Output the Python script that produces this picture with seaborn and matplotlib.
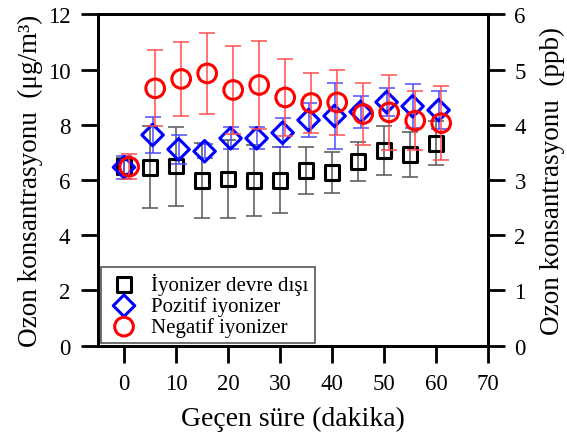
import numpy as np
import pandas as pd
import matplotlib
matplotlib.use("Agg")
import matplotlib.pyplot as plt
import seaborn as sns

# ---- data ----
time_off = [0, 5, 10, 15, 20, 25, 30, 35, 40, 45, 50, 55, 60]
ozone_off = [6.48, 6.46, 6.50, 5.99, 6.04, 5.99, 5.99, 6.34, 6.28, 6.66, 7.06, 6.92, 7.33]
err_off = [0.30, 1.49, 1.43, 1.36, 1.41, 1.28, 1.20, 0.86, 0.75, 0.70, 0.89, 0.81, 0.80]

time_pos = [0, 5.5, 10.5, 15.5, 20.5, 25.5, 30.5, 35.5, 40.5, 45.5, 50.5, 55.5, 60.5]
ozone_pos = [6.46, 7.63, 7.11, 7.04, 7.51, 7.51, 7.71, 8.17, 8.32, 8.47, 8.82, 8.67, 8.53]
err_pos = [0.42, 0.64, 0.52, 0.25, 0.40, 0.40, 0.52, 0.63, 1.20, 0.58, 0.51, 0.80, 0.70]

time_neg = [1, 6, 11, 16, 21, 26, 31, 36, 41, 46, 51, 56, 61]
ozone_neg = [6.48, 9.32, 9.66, 9.86, 9.26, 9.44, 8.99, 8.79, 8.81, 8.39, 8.45, 8.15, 8.06]
err_neg = [0.45, 1.37, 1.34, 1.48, 1.60, 1.58, 1.39, 1.09, 1.19, 1.13, 1.36, 1.06, 1.33]

labels = ["İyonizer devre dışı", "Pozitif iyonizer", "Negatif iyonizer"]
x_ticks = [0, 10, 20, 30, 40, 50, 60, 70]
left_ticks = [0, 2, 4, 6, 8, 10, 12]
right_ticks = [0, 1, 2, 3, 4, 5, 6]

sns.set_theme(style="ticks", rc={
    "axes.edgecolor": "black", "xtick.color": "black", "ytick.color": "black",
    "text.color": "black", "axes.labelcolor": "black", "axes.linewidth": 2.0,
})
plt.rcParams["font.family"] = ["Liberation Serif", "DejaVu Serif"]

fig = plt.figure(figsize=(5.67, 4.39), dpi=100)
ax = fig.add_axes([0.1728, 0.2103, 0.6879, 0.7548])

series = [
    (time_off, ozone_off, err_off, "s", 110, "black", "#555555", labels[0]),
    (time_pos, ozone_pos, err_pos, "D", 120, "#0000ff", "#4d4dff", labels[1]),
    (time_neg, ozone_neg, err_neg, "o", 180, "#ff0000", "#ff4d4d", labels[2]),
]

for i, (t, y, e, m, s, c, ec, lab) in enumerate(series):
    ax.errorbar(t, y, yerr=e, fmt="none", ecolor=ec, elinewidth=1.1,
                capsize=6, capthick=1.1, zorder=2 + i * 2)
    df = pd.DataFrame({"t": t, "y": y})
    sns.scatterplot(data=df, x="t", y="y", marker=m, s=s, facecolor="none",
                    edgecolor=c, linewidth=2.2, ax=ax, label=lab,
                    zorder=3 + i * 2)

ax.set_xlim(-5, 70)
ax.set_ylim(0, 12)
ax.set_xticks(x_ticks)
ax.set_yticks(left_ticks)
ax.tick_params(axis="both", direction="out", length=12, width=2,
               labelsize=16.5, colors="black")
ax.tick_params(axis="x", pad=8)
ax.tick_params(axis="y", pad=8)
ax.set_xlabel("Geçen süre (dakika)", fontsize=20, color="black",
              labelpad=8)
ax.set_ylabel("Ozon konsantrasyonu  (μg/m³)", fontsize=19.5, labelpad=3,
              color="black")

ax2 = ax.twinx()
ax2.set_ylim(0, 6)
ax2.set_yticks(right_ticks)
ax2.tick_params(axis="y", direction="out", length=12, width=2,
                labelsize=16.5, pad=7, colors="black")
ax2.set_ylabel("Ozon konsantrasyonu  (ppb)", fontsize=19.5, rotation=90,
               labelpad=10, color="black")
for a in (ax, ax2):
    for sp in a.spines.values():
        sp.set_linewidth(2.0)
        sp.set_color("black")

leg = ax.legend(loc="lower left", bbox_to_anchor=(0.008, 0.007),
                borderaxespad=0, fontsize=15, frameon=True, fancybox=False,
                edgecolor="#555555", framealpha=1, labelspacing=0.05,
                handletextpad=0.5, borderpad=0.3, handlelength=1.6)
leg.get_frame().set_linewidth(1.2)
for txt in leg.get_texts():
    txt.set_color("black")

fig.savefig("out.png", dpi=100)
